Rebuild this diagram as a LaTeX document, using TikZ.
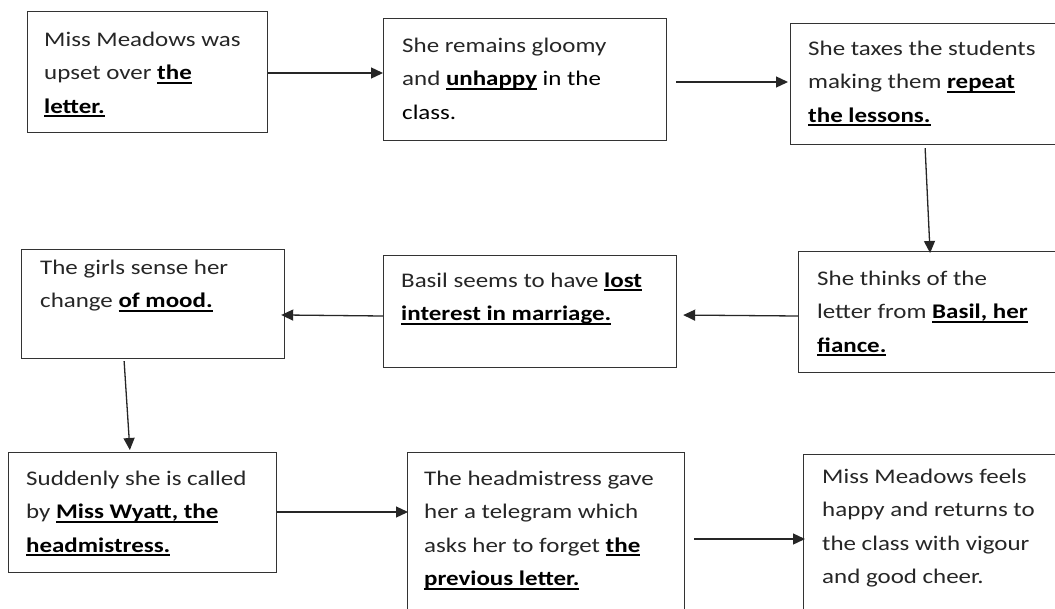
\documentclass[tikz,border=0pt]{standalone}
\usepackage{fontspec}
\setmainfont{Carlito}[FakeStretch=1.2]
\usetikzlibrary{arrows.meta,calc}
\newcommand\myub[1]{\setbox0\hbox{\bfseries\color{black}#1}\rlap{\color{black}\rule[-3.8pt]{\wd0}{1.7pt}}\box0\relax}
\newcommand\mystrut{\rule{0pt}{18pt}}
\begin{document}
\begin{tikzpicture}[x=1pt,y=-1pt,
 box/.style={draw=black!80, line width=1.2pt, rectangle, inner sep=0pt, anchor=north west},
 txt/.style={anchor=north west, inner sep=0pt, align=left, text=black!85, font=\fontsize{20.8}{33.5}\selectfont},
 arr/.style={draw=black!85, line width=1.3pt, -{Triangle[length=12pt,width=11pt]}}]
\useasboundingbox (0,0) rectangle (1055,608);
\clip (0,0) rectangle (1055,608);
\fill[white] (0,0) rectangle (1055,608);
% boxes
\node[box, minimum width=240pt, minimum height=121pt] (b1) at (27,11) {};
\node[box, minimum width=283pt, minimum height=122pt] (b2) at (383,18) {};
\node[box, minimum width=300pt, minimum height=121pt] (b3) at (790,23) {};
\node[box, minimum width=300pt, minimum height=121pt] (b4) at (798,251) {};
\node[box, minimum width=293pt, minimum height=112pt] (b6) at (383,255) {};
\node[box, minimum width=263pt, minimum height=109pt] (b5) at (21,249) {};
\node[box, minimum width=268pt, minimum height=120pt] (b7) at (8,452) {};
\node[box, minimum width=277pt, minimum height=200pt] (b8) at (407,452) {};
\node[box, minimum width=300pt, minimum height=200pt] (b9) at (803,454) {};
% texts
\node[txt] (t1) at ($(b1.north west)+(17,17)$) {\mystrut Miss Meadows was\\upset over \myub{the}\\\myub{letter.}};
\node[txt] (t2) at ($(b2.north west)+(19,16)$) {\mystrut She remains gloomy\\and \myub{unhappy} in the\\class.};
\node[txt] (t3) at ($(b3.north west)+(18,14)$) {\mystrut She taxes the students\\making them \myub{repeat}\\\myub{the lessons.}};
\node[txt] (t4) at ($(b4.north west)+(19,16)$) {\mystrut She thinks of the\\letter from \myub{Basil, her}\\\myub{fiance.}};
\node[txt] (t5) at ($(b5.north west)+(19,7)$) {\mystrut The girls sense her\\change \myub{of mood.}};
\node[txt] (t6) at ($(b6.north west)+(18,14)$) {\mystrut Basil seems to have \myub{lost}\\\myub{interest in marriage.}};
\node[txt] (t7) at ($(b7.north west)+(18,15)$) {\mystrut Suddenly she is called\\by \myub{Miss Wyatt, the}\\\myub{headmistress.}};
\node[txt] (t8) at ($(b8.north west)+(17,15)$) {\mystrut The headmistress gave\\her a telegram which\\asks her to forget \myub{the}\\\myub{previous letter.}};
\node[txt] (t9) at ($(b9.north west)+(19,11)$) {\mystrut Miss Meadows feels\\happy and returns to\\the class with vigour\\and good cheer.};
% arrows
\draw[arr] (b1.east |- 0,73) -- (b2.west |- 0,73);
\draw[arr, shorten <=9pt, shorten >=2pt] (b2.east |- 0,82) -- (b3.west |- 0,82);
\draw[arr, shorten <=3pt, shorten >=-2pt] (b3.south -| 925,0) -- (b4.north -| 930,0);
\draw[arr, shorten >=6pt] (b4.west |- 0,316) -- (b6.east |- 0,315);
\draw[arr, shorten >=-4pt] (b6.west |- 0,316) -- (b5.east |- 0,315);
\draw[arr, shorten <=2pt, shorten >=2pt] (b5.south -| 124,0) -- (b7.north -| 130,0);
\draw[arr, shorten >=-1pt] (b7.east |- 0,512) -- (b8.west |- 0,512);
\draw[arr, shorten <=9pt, shorten >=-2pt] (b8.east |- 0,539) -- (b9.west |- 0,539);
\end{tikzpicture}
\end{document}
